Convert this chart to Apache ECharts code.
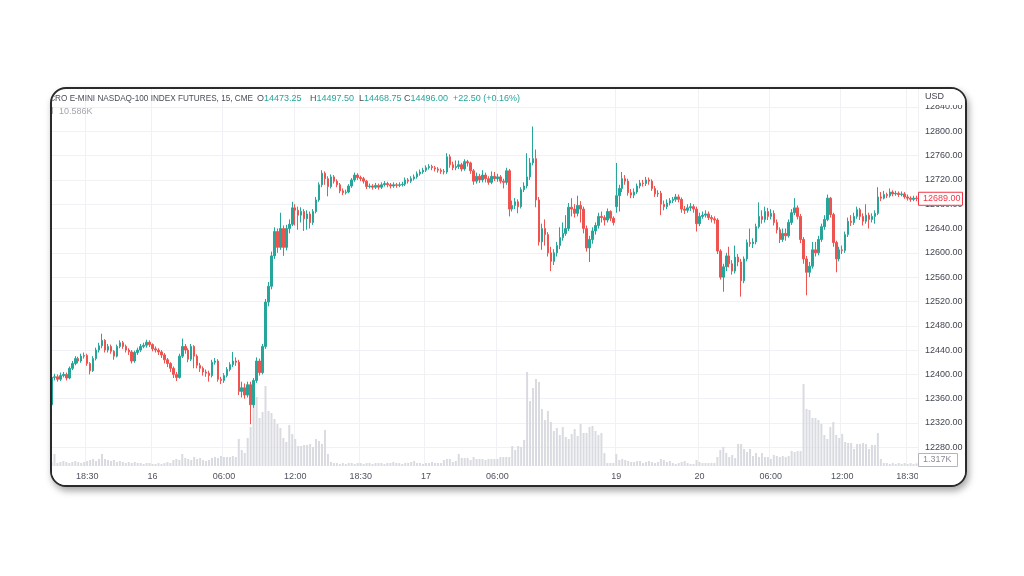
<!DOCTYPE html>
<html>
<head>
<meta charset="utf-8">
<script src="https://cdn.jsdelivr.net/npm/echarts@6/dist/echarts.min.js"></script>
<style>
  html, body { margin: 0; padding: 0; background: #ffffff; width: 1024px; height: 576px; overflow: hidden; }
  #frame { position: absolute; left: 50px; top: 87px; width: 917px; height: 400px; box-sizing: border-box;
           border: 2px solid #2a2a2a; border-radius: 16px; overflow: hidden; background: #fff;
           box-shadow: 2px 4px 7px rgba(0,0,0,0.35); }
  #chart { position: absolute; left: -52px; top: -89px; width: 1024px; height: 576px; }
</style>
</head>
<body>
<div id="frame"><div id="chart"></div></div>
<script>
// ---- sessions (15-minute bars, CME daily halt 16:00-17:00, weekend break) ----
const sessionDays  = ['15', '15', '16', '16', '17', '19', '20', '20'];
const sessionStart = ['14:30', '17:00', '00:00', '17:00', '00:00', '17:00', '00:00', '17:00'];
const sessionEnd   = ['16:00', '24:00', '16:00', '24:00', '16:00', '24:00', '16:00', '19:30'];

// ---- time-axis tick labels ----
const tickIndex = [12, 34, 58, 82, 104, 126, 150, 190, 218, 242, 266, 288];
const tickText  = ['18:30', '16', '06:00', '12:00', '18:30', '17', '06:00', '19', '20', '06:00', '12:00', '18:30'];

// ---- price axis ticks ----
const priceMin = 12240, priceMax = 12880, priceStep = 40;

// ---- OHLC values ----
const opens = [
12350,12395,12396,12392,12398,12400,12394,12410,12418,12426,
12422,12430,12431,12418,12406,12426,12440,12447,12456,12440,
12446,12438,12430,12446,12452,12446,12440,12437,12422,12436,
12440,12446,12448,12453,12449,12442,12440,12437,12432,12424,
12418,12410,12400,12395,12430,12446,12440,12425,12446,12430,
12415,12410,12404,12402,12398,12420,12422,12392,12390,12398,
12408,12416,12422,12420,12372,12378,12366,12383,12350,12390,
12422,12403,12446,12519,12545,12595,12635,12609,12640,12609,
12640,12647,12674,12670,12662,12668,12656,12664,12650,12668,
12687,12712,12731,12722,12709,12725,12718,12712,12702,12699,
12700,12710,12720,12728,12724,12722,12718,12709,12710,12708,
12711,12708,12712,12714,12712,12710,12712,12711,12712,12713,
12720,12718,12722,12725,12730,12733,12736,12740,12742,12740,
12738,12736,12734,12733,12758,12745,12740,12742,12745,12738,
12750,12748,12735,12718,12726,12720,12728,12722,12716,12726,
12722,12725,12718,12716,12735,12672,12678,12684,12676,12704,
12710,12725,12748,12755,12687,12618,12640,12630,12600,12586,
12600,12612,12625,12632,12640,12675,12672,12665,12678,12672,
12640,12608,12622,12636,12645,12660,12658,12654,12668,12657,
12676,12694,12706,12722,12718,12699,12695,12700,12710,12715,
12714,12720,12718,12706,12697,12698,12680,12676,12682,12686,
12688,12692,12688,12672,12670,12674,12676,12672,12648,12660,
12662,12664,12658,12656,12654,12603,12560,12577,12595,12582,
12570,12593,12585,12554,12590,12617,12615,12618,12643,12660,
12655,12668,12660,12665,12650,12638,12622,12632,12628,12650,
12666,12674,12660,12622,12590,12568,12578,12605,12600,12622,
12643,12655,12690,12663,12617,12590,12605,12604,12630,12652,
12650,12660,12671,12660,12652,12662,12655,12660,12665,12692,
12690,12696,12694,12700,12697,12698,12696,12697,12692,12690,
12688,12690];
const closes = [
12395,12396,12392,12398,12400,12394,12410,12418,12426,12422,
12430,12431,12418,12406,12426,12440,12447,12456,12440,12446,
12438,12430,12446,12452,12446,12440,12437,12422,12436,12440,
12446,12448,12453,12449,12442,12440,12437,12432,12424,12418,
12410,12400,12395,12430,12446,12440,12425,12446,12430,12415,
12410,12404,12402,12398,12420,12422,12392,12390,12398,12408,
12416,12422,12420,12372,12378,12366,12383,12350,12390,12422,
12403,12446,12519,12545,12595,12635,12609,12640,12609,12640,
12647,12674,12670,12662,12668,12656,12664,12650,12668,12687,
12712,12731,12722,12709,12725,12718,12712,12702,12699,12700,
12710,12720,12728,12724,12722,12718,12709,12710,12708,12711,
12708,12712,12714,12712,12710,12712,12711,12712,12713,12720,
12718,12722,12725,12730,12733,12736,12740,12742,12740,12738,
12736,12734,12733,12758,12745,12740,12742,12745,12738,12750,
12748,12735,12718,12726,12720,12728,12722,12716,12726,12722,
12725,12718,12716,12735,12672,12678,12684,12676,12704,12710,
12725,12748,12755,12687,12618,12640,12630,12600,12586,12600,
12612,12625,12632,12640,12675,12672,12665,12678,12672,12640,
12608,12622,12636,12645,12660,12658,12654,12668,12657,12650,
12694,12706,12722,12718,12699,12695,12700,12710,12715,12714,
12720,12718,12706,12697,12698,12680,12676,12682,12686,12688,
12692,12688,12672,12670,12674,12676,12672,12648,12660,12662,
12664,12658,12656,12654,12603,12560,12577,12595,12582,12570,
12593,12585,12554,12590,12617,12615,12618,12643,12660,12655,
12668,12660,12665,12650,12638,12622,12632,12628,12650,12666,
12674,12660,12622,12590,12568,12578,12605,12600,12622,12643,
12655,12690,12663,12617,12590,12605,12604,12630,12652,12650,
12660,12671,12660,12652,12662,12655,12660,12665,12692,12690,
12696,12694,12700,12697,12698,12696,12697,12692,12690,12688,
12690,12689];
const highs = [
12402,12401,12400,12403,12404,12403,12413,12422,12430,12429,
12434,12436,12434,12420,12430,12444,12452,12467,12458,12450,
12449,12440,12449,12456,12455,12449,12443,12440,12439,12444,
12450,12452,12457,12456,12451,12446,12443,12440,12435,12427,
12420,12413,12404,12434,12459,12450,12443,12450,12448,12433,
12419,12413,12408,12406,12424,12427,12425,12396,12402,12412,
12420,12437,12428,12424,12388,12385,12388,12388,12394,12428,
12426,12450,12524,12552,12602,12642,12640,12666,12645,12646,
12655,12684,12680,12676,12675,12672,12670,12668,12672,12692,
12716,12736,12734,12726,12729,12728,12721,12715,12706,12704,
12713,12723,12732,12731,12727,12725,12720,12714,12713,12715,
12714,12716,12718,12717,12715,12716,12715,12716,12717,12724,
12723,12726,12729,12734,12737,12740,12744,12746,12745,12743,
12741,12739,12738,12764,12762,12750,12752,12752,12748,12754,
12753,12750,12738,12732,12730,12736,12732,12726,12734,12733,
12730,12728,12722,12740,12738,12686,12690,12688,12708,12716,
12764,12756,12808,12770,12692,12648,12655,12634,12610,12606,
12618,12642,12650,12662,12682,12690,12680,12694,12685,12676,
12645,12628,12642,12650,12666,12668,12662,12673,12670,12660,
12748,12712,12733,12728,12722,12705,12706,12714,12720,12720,
12725,12724,12721,12710,12703,12702,12686,12688,12690,12692,
12697,12696,12691,12677,12680,12682,12680,12676,12666,12668,
12670,12668,12662,12660,12657,12606,12582,12600,12610,12588,
12612,12598,12590,12594,12622,12640,12624,12648,12683,12670,
12676,12674,12672,12670,12655,12642,12640,12640,12655,12672,
12690,12678,12664,12626,12595,12585,12618,12618,12628,12648,
12662,12696,12692,12666,12620,12610,12612,12635,12658,12662,
12666,12676,12674,12665,12680,12666,12665,12670,12708,12700,
12702,12699,12706,12703,12702,12701,12701,12700,12696,12693,
12694,12694];
const lows = [
12345,12390,12388,12389,12395,12390,12392,12407,12415,12418,
12419,12426,12414,12400,12404,12423,12436,12443,12436,12436,
12434,12424,12428,12443,12442,12436,12432,12418,12419,12432,
12437,12443,12444,12445,12438,12436,12432,12427,12418,12412,
12404,12394,12389,12393,12427,12434,12420,12422,12410,12410,
12404,12398,12396,12388,12395,12416,12388,12384,12386,12395,
12405,12412,12414,12366,12362,12360,12362,12318,12345,12386,
12398,12400,12442,12512,12540,12590,12600,12605,12595,12604,
12632,12644,12645,12638,12650,12636,12638,12640,12646,12665,
12684,12708,12712,12693,12706,12714,12708,12698,12695,12696,
12698,12707,12717,12720,12718,12714,12705,12706,12704,12705,
12704,12705,12709,12708,12706,12707,12707,12708,12709,12710,
12714,12715,12719,12722,12727,12730,12733,12737,12736,12734,
12732,12730,12729,12730,12740,12736,12736,12738,12734,12735,
12742,12730,12712,12714,12715,12716,12716,12712,12713,12718,
12717,12714,12706,12712,12660,12668,12672,12665,12673,12700,
12706,12720,12744,12675,12612,12605,12612,12594,12570,12580,
12594,12606,12620,12628,12636,12660,12658,12660,12650,12632,
12602,12585,12615,12630,12640,12650,12645,12650,12652,12645,
12666,12668,12700,12712,12694,12690,12690,12697,12706,12709,
12710,12712,12702,12692,12692,12662,12670,12672,12678,12682,
12684,12683,12666,12664,12666,12669,12666,12635,12644,12656,
12658,12654,12650,12648,12598,12556,12536,12570,12576,12564,
12566,12578,12528,12550,12586,12610,12608,12614,12640,12648,
12650,12654,12655,12645,12632,12616,12618,12620,12625,12646,
12662,12655,12616,12582,12530,12560,12574,12594,12596,12618,
12638,12652,12658,12610,12568,12586,12598,12600,12626,12644,
12646,12656,12654,12645,12648,12640,12650,12648,12662,12685,
12688,12690,12691,12693,12694,12692,12693,12689,12686,12684,
12685,12685];

// ---- volume (thousands of contracts) ----
const volumes = [
2,6,1.5,2,2.5,2,1.5,2,2.5,2,
1.5,2,2.5,3,3.5,2.5,3.5,6,3.5,3,
2.5,3,2,2.5,2,1.5,2,1.5,2,1.5,
1.5,1,1.5,1.5,1,1,1.5,1,1.5,2,
1.5,3,3.5,3,6,4,3.5,3,4.5,3.5,
4,3,2.5,3,4,4.5,4,5,4.5,4.5,
4.5,5,4.5,13.5,8,6.5,14,19.5,31.5,34.5,
24,27,40,27.5,26.5,23.5,21,19,14,12,
20.5,16,13.5,10,10,10.5,10.5,11,9.5,13.5,
12.5,11,18,6,2,1.5,1.5,1,1.5,1,
1.5,1.5,1,1.5,1.5,1,1.5,1.5,1,1.5,
1.5,1.5,1,1.5,1.5,2,1.5,1.5,1,1.5,
1.5,2,2.5,1.5,1.5,1,1.5,1.5,2,1.5,
1.5,1.5,3,3.5,3.5,2,2.5,6,4,4,
4,3,4.5,3.5,3.5,3.5,3,3.5,3.5,3.5,
3.5,4.5,4.5,4.5,4.5,10,8,10,9.5,13,
47,32.5,39,43.5,42,28.5,23,27.5,22,17.5,
19,15.5,19.5,14.5,13.5,16,18.5,15,21,16.5,
16.5,19.5,20,17.5,15.5,16.5,6.5,1.5,1.5,1.5,
6,3,3.5,3,2.5,2,2,2.5,2.5,1.5,
2,2.5,2,1.5,2,3.5,3,2,2.5,1.5,
1,1.5,2,2.5,1.5,1,1,3,2,1.5,
1.5,1.5,1.5,1.5,4.5,8,9.5,6.5,4.5,5.5,
4,11,11,8.5,7,8.5,5,6.5,4.5,6.5,
4.5,4.5,3.5,5.5,5,4.5,5,4.5,5,7.5,
7,7.5,7.5,41,28.5,28,24,24,23,21,
15.5,13.5,19.5,22,15.5,14,16,12,11.5,11.5,
8.5,11,11,11.5,11,8.5,10.5,10.5,16.5,3.5,
1.5,1.5,1,1.5,1,1.5,1,1.5,1,1.5,
1,1.317];

// ---- header legend texts ----
const titleText = 'MICRO E-MINI NASDAQ-100 INDEX FUTURES, 15, CME';
const legendLetters = ['O', 'H', 'L', 'C'];
const legendValues = ['14473.25', '14497.50', '14468.75', '14496.00'];
const legendChange = '+22.50 (+0.16%)';
const volumeLabel = 'Vol';
const volumeLegend = '10.586K';
const lastPriceText = '12689.00';
const lastVolumeText = '1.317K';
const currencyText = 'USD';

// ---- build categories from the session schedule ----
function toMin(s) { const p = s.split(':'); return (+p[0]) * 60 + (+p[1]); }
function pad(n) { return (n < 10 ? '0' : '') + n; }
const categories = [];
for (let k = 0; k < sessionDays.length; k++) {
  for (let t = toMin(sessionStart[k]); t < toMin(sessionEnd[k]); t += 15) {
    categories.push(sessionDays[k] + ' ' + pad(Math.floor(t / 60)) + ':' + pad(t % 60));
  }
}
const candleData = closes.map((c, i) => [opens[i], c, lows[i], highs[i]]);

const FONT = '"Liberation Sans", Arial, sans-serif';
const UP = '#26a69a', DOWN = '#ef5350';
const tickFn = (idx) => tickIndex.indexOf(idx) >= 0;

// pixel geometry
const PLOT_L = 50, PLOT_R = 918, PANE_BOTTOM = 466;
const pxPerPt = 0.6077, y12800 = 131.3;
const priceTop = y12800 - (priceMax - 12800) * pxPerPt;
const priceHeight = (priceMax - priceMin) * pxPerPt;

const legendX = [257, 310, 359, 404];
const graphics = [];
graphics.push({ type: 'rect', z: 3, shape: { x: 0, y: PANE_BOTTOM, width: 1024, height: 40 }, style: { fill: '#ffffff' } });
graphics.push({ type: 'rect', z: 30, shape: { x: PLOT_R, y: PANE_BOTTOM, width: 106, height: 40 }, style: { fill: '#ffffff' } });
graphics.push({ type: 'rect', z: 30, shape: { x: PLOT_R + 1, y: 80, width: 60, height: 25 }, style: { fill: '#ffffff' } });
graphics.push({ type: 'text', z: 31, x: 925, y: 97, style: { text: currencyText, font: '9px ' + FONT, fill: '#434651', align: 'left', verticalAlign: 'middle' } });
graphics.push({ type: 'text', z: 31, x: 253, y: 99, style: { text: titleText, font: '8.2px ' + FONT, fill: '#4a4d57', align: 'right', verticalAlign: 'middle' } });
for (let k = 0; k < legendLetters.length; k++) {
  graphics.push({ type: 'text', z: 31, x: legendX[k], y: 99, style: {
    text: '{l|' + legendLetters[k] + '}{v|' + legendValues[k] + '}', align: 'left', verticalAlign: 'middle',
    rich: { l: { font: '9px ' + FONT, fill: '#4a4d57' }, v: { font: '9px ' + FONT, fill: UP } } } });
}
graphics.push({ type: 'text', z: 31, x: 453, y: 99, style: { text: legendChange, font: '9px ' + FONT, fill: UP, align: 'left', verticalAlign: 'middle' } });
graphics.push({ type: 'text', z: 31, x: 53, y: 112, style: { text: volumeLabel, font: '9px ' + FONT, fill: '#4a4d57', align: 'right', verticalAlign: 'middle' } });
graphics.push({ type: 'text', z: 31, x: 59, y: 112, style: { text: volumeLegend, font: '9px ' + FONT, fill: '#a3a6af', align: 'left', verticalAlign: 'middle' } });
const lastY = y12800 + (12800 - closes[closes.length - 1]) * pxPerPt;
graphics.push({ type: 'rect', z: 32, shape: { x: PLOT_R + 0.5, y: lastY - 6.5, width: 44, height: 13 }, style: { fill: '#ffffff', stroke: '#f23645', lineWidth: 1 } });
graphics.push({ type: 'text', z: 33, x: 923, y: lastY, style: { text: lastPriceText, font: '9px ' + FONT, fill: '#f23645', align: 'left', verticalAlign: 'middle' } });
graphics.push({ type: 'rect', z: 32, shape: { x: PLOT_R + 0.5, y: 453.5, width: 39, height: 13 }, style: { fill: '#ffffff', stroke: '#b2b5be', lineWidth: 1 } });
graphics.push({ type: 'text', z: 33, x: 923, y: 460, style: { text: lastVolumeText, font: '9px ' + FONT, fill: '#8a8d96', align: 'left', verticalAlign: 'middle' } });

const chart = echarts.init(document.getElementById('chart'), null, { renderer: 'canvas' });
chart.setOption({
  animation: false,
  backgroundColor: 'transparent',
  grid: [
    { left: PLOT_L, right: 1024 - PLOT_R, top: priceTop, height: priceHeight },
    { left: PLOT_L, right: 1024 - PLOT_R, top: 280, bottom: 576 - PANE_BOTTOM }
  ],
  xAxis: [
    { type: 'category', gridIndex: 0, data: categories, boundaryGap: true,
      axisLine: { show: false }, axisTick: { show: false }, axisLabel: { show: false },
      splitLine: { show: true, interval: tickFn, lineStyle: { color: '#eff1f4', width: 1 } } },
    { type: 'category', gridIndex: 1, data: categories, boundaryGap: true, z: 10,
      axisLine: { show: false }, axisTick: { show: false }, splitLine: { show: false },
      axisLabel: { interval: tickFn, formatter: (v, idx) => tickText[tickIndex.indexOf(idx)] || '',
                   fontFamily: 'Liberation Sans', fontSize: 9, color: '#50535e', margin: 6 } }
  ],
  yAxis: [
    { type: 'value', gridIndex: 0, position: 'right', min: priceMin, max: priceMax, interval: priceStep,
      axisLine: { show: false }, axisTick: { show: false },
      axisLabel: { margin: 7, fontFamily: 'Liberation Sans', fontSize: 9, color: '#434651',
                   formatter: (v) => (v <= priceMin || v >= priceMax) ? '' : v.toFixed(2) },
      splitLine: { show: true, lineStyle: { color: '#eff1f4', width: 1 } } },
    { type: 'value', gridIndex: 1, min: 0, max: 93, show: false, splitLine: { show: false } }
  ],
  series: [
    { type: 'bar', xAxisIndex: 1, yAxisIndex: 1, data: volumes, barWidth: 2, z: 1,
      itemStyle: { color: '#d9dbe0' }, silent: true },
    { type: 'candlestick', xAxisIndex: 0, yAxisIndex: 0, data: candleData, barWidth: 2, z: 5,
      itemStyle: { color: UP, color0: DOWN, borderColor: UP, borderColor0: DOWN, borderWidth: 1 }, silent: true }
  ],
  graphic: { elements: graphics }
});
</script>
</body>
</html>
